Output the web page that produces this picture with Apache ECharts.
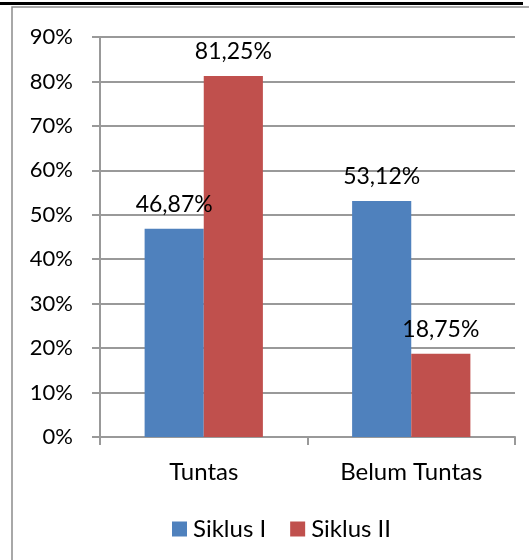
<!DOCTYPE html>
<html><head><meta charset="utf-8">
<script src="https://cdn.jsdelivr.net/npm/echarts@6/dist/echarts.min.js"></script>
<style>html,body{margin:0;padding:0;background:#fff}#c{width:529px;height:560px}</style>
</head><body><div id="c"></div>
<script>
const categories = ["Tuntas", "Belum Tuntas"];
const siklus1 = [46.87, 53.12];
const siklus2 = [81.25, 18.75];
const seriesNames = ["Siklus I", "Siklus II"];
const yTicks = [0, 10, 20, 30, 40, 50, 60, 70, 80, 90];

const FONT = "Lato";
const chart = echarts.init(document.getElementById('c'), null, {renderer: 'canvas'});
const fmt = v => v.toFixed(2).replace('.', ',') + '%';
const labelCfg = {show: true, position: 'top', distance: 13, color: '#000', fontFamily: FONT, fontSize: 23,
  formatter: p => fmt(p.value)};
chart.setOption({
  animation: false,
  graphic: [
    {type: 'rect', shape: {x: 0, y: 2, width: 523, height: 3}, style: {fill: '#000'}, silent: true},
    {type: 'rect', shape: {x: 12, y: 7, width: 540, height: 600}, style: {fill: 'none', stroke: '#8c8c8c', lineWidth: 1.5}, silent: true}
  ],
  legend: {
    data: seriesNames, bottom: 14, left: 167, itemWidth: 15, itemHeight: 15, itemGap: 24,
    icon: 'rect',
    textStyle: {fontFamily: FONT, fontSize: 24, color: '#000', padding: [0, 0, 0, 1]}
  },
  grid: {left: 100, right: 14, top: 37, bottom: 123, containLabel: false},
  xAxis: {
    type: 'category', data: categories,
    axisLine: {lineStyle: {color: '#999', width: 2}},
    axisTick: {show: true, length: 8, lineStyle: {color: '#999', width: 2}},
    axisLabel: {margin: 23, fontFamily: FONT, fontSize: 24, color: '#000'}
  },
  yAxis: {
    type: 'value', min: 0, max: 90, interval: 10,
    axisLine: {show: true, lineStyle: {color: '#999', width: 2}},
    axisTick: {show: true, length: 8, inside: false, lineStyle: {color: '#999', width: 2}},
    splitLine: {show: true, lineStyle: {color: '#999', width: 2}},
    axisLabel: {margin: 27, fontFamily: FONT, fontSize: 22, color: '#000', formatter: v => yTicks.includes(v) ? v + '%' : ''}
  },
  series: [
    {name: seriesNames[0], type: 'bar', data: siklus1, itemStyle: {color: '#4F81BD'}, barGap: '0%', barCategoryGap: '43%', label: labelCfg},
    {name: seriesNames[1], type: 'bar', data: siklus2, itemStyle: {color: '#C0504D'}, barGap: '0%', barCategoryGap: '43%', label: labelCfg}
  ]
});
</script></body></html>
